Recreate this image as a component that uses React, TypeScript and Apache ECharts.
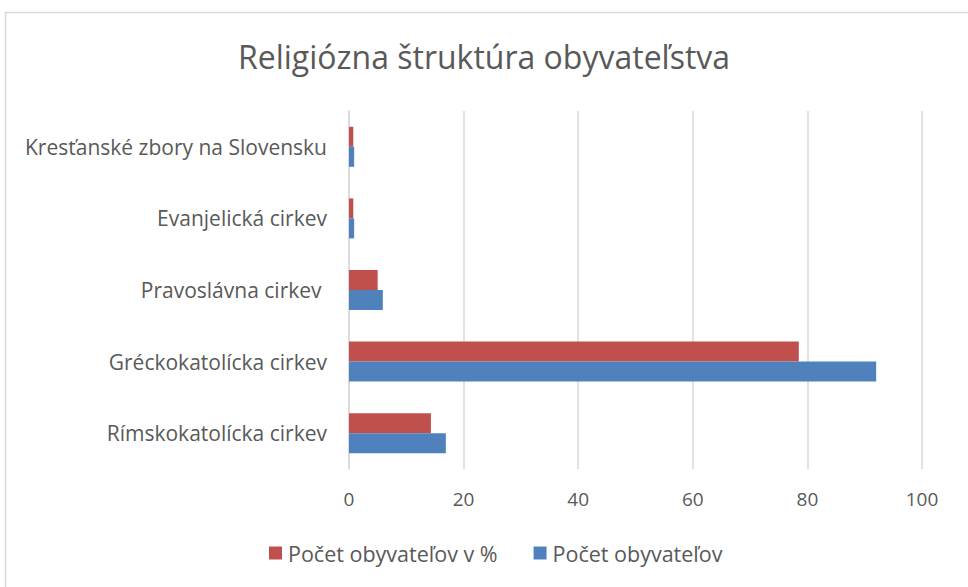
import React, { useEffect, useRef } from "react";
import * as echarts from "echarts";

const categories = [
  "Rímskokatolícka cirkev",
  "Gréckokatolícka cirkev",
  "Pravoslávna cirkev ",
  "Evanjelická cirkev",
  "Kresťanské zbory na Slovensku",
];
const seriesCountName = "Počet obyvateľov";
const seriesPctName = "Počet obyvateľov v %";
const countValues = [16.9, 92.0, 5.9, 0.9, 0.9];
const pctValues = [14.3, 78.5, 5.0, 0.75, 0.75];
const xTicks = { min: 0, max: 100, interval: 20 };

export default function App() {
  const ref = useRef<HTMLDivElement>(null);
  useEffect(() => {
    if (!ref.current) return;
    const chart = echarts.init(ref.current, null, { renderer: "svg" });
    const font = "'Open Sans', sans-serif";
    chart.setOption({
      animation: false,
      backgroundColor: "#ffffff",
      title: {
        text: "Religiózna štruktúra obyvateľstva",
        left: "center",
        top: 35,
        textStyle: { fontFamily: font, fontSize: 32, fontWeight: "normal", color: "#595959" },
      },
      graphic: [
        {
          type: "rect",
          shape: { x: 5.5, y: 12.5, width: 1000, height: 700 },
          style: { fill: "none", stroke: "#d9d9d9", lineWidth: 1.5 },
          silent: true,
          z: -1,
        },
      ],
      legend: {
        data: [seriesPctName, seriesCountName],
        top: 537,
        left: 264,
        itemWidth: 13,
        itemHeight: 13,
        itemGap: 36,
        icon: "rect",
        textStyle: { fontFamily: font, fontSize: 21.5, color: "#595959", padding: [0, 0, 0, 1] },
      },
      grid: { left: 349, right: 46, top: 111, bottom: 118, containLabel: false },
      xAxis: {
        type: "value",
        min: xTicks.min,
        max: xTicks.max,
        interval: xTicks.interval,
        axisLine: { show: false },
        axisTick: { show: false },
        splitLine: { lineStyle: { color: "#d9d9d9", width: 1.5 } },
        axisLabel: { fontFamily: font, fontSize: 19, color: "#595959", margin: 20 },
      },
      yAxis: {
        type: "category",
        data: categories,
        axisLine: { lineStyle: { color: "#d9d9d9", width: 1.5 } },
        axisTick: { show: false },
        axisLabel: { fontFamily: font, fontSize: 21, color: "#595959", margin: 22 },
      },
      series: [
        {
          name: seriesPctName,
          type: "bar",
          data: pctValues,
          barWidth: 20,
          barGap: "0%",
          itemStyle: { color: "#c0504d" },
        },
        {
          name: seriesCountName,
          type: "bar",
          data: countValues,
          barWidth: 20,
          barGap: "0%",
          itemStyle: { color: "#4f81bd" },
        },
      ],
    });
    return () => chart.dispose();
  }, []);
  return (
    <div
      ref={ref}
      style={{ position: "absolute", left: 0, top: 0, width: 968, height: 587 }}
    />
  );
}
